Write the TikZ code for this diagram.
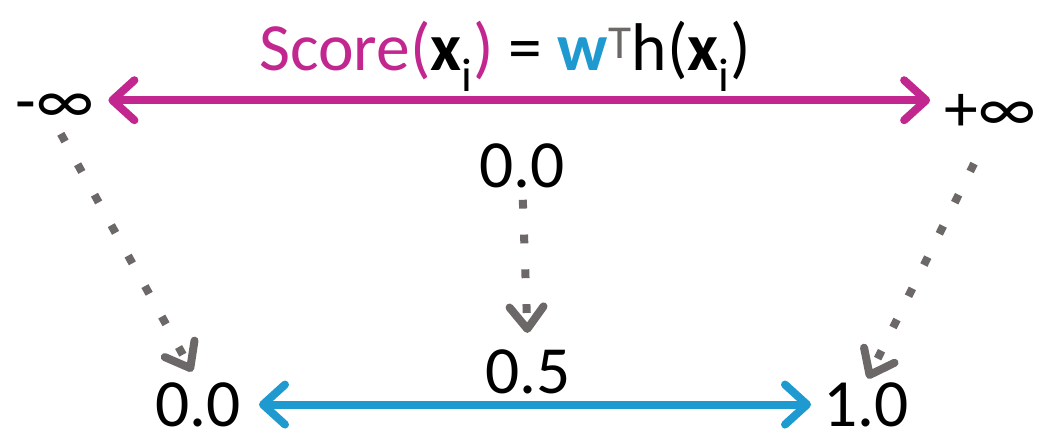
\documentclass[tikz,border=0pt]{standalone}
\usepackage{fontspec}
\setmainfont{Carlito}
\usepackage{xcolor}
\usepackage{tikz}
\usetikzlibrary{arrows.meta,positioning,calc}
\definecolor{scoremag}{HTML}{C2278F}
\definecolor{probblue}{HTML}{1E9AD0}
\definecolor{mapgray}{HTML}{6D6868}

\begin{document}
\begin{tikzpicture}[
    lbl/.style={inner sep=0pt, font=\fontsize{48}{56}\selectfont},
    rangearr/.style={line width=0.2cm, {Straight Barb[round,length=0.55cm,width=1cm]}-{Straight Barb[round,length=0.55cm,width=1cm]}},
    maparr/.style={draw=mapgray, line width=0.2cm, dash pattern=on 0.22cm off 0.65cm,
                   -{Straight Barb[round,length=0.55cm,width=0.85cm]}}
  ]
  \useasboundingbox (0,0) rectangle (26,11.075);
  \clip (0,0) rectangle (26,11.075);

  % score line
  \node[lbl, anchor=base] (title) at (12.625,9.3)
    {\color{scoremag}Score(\textcolor{black}{\textbf{x}\textsubscript{i}})
     \textcolor{black}{=} \textcolor{probblue}{\textbf{w}}\textcolor{mapgray}{\textsuperscript{T}}\textcolor{black}{h(\textbf{x}\textsubscript{i})}};
  \node[lbl, anchor=base] (minf) at (1.375,8.0) {-∞};
  \node[lbl, anchor=base] (pinf) at (24.75,7.8) {+∞};
  \node[lbl, anchor=base] (zmid) at (13.06,6.4) {0.0};

  % probability line
  \node[lbl, anchor=base] (half) at (13.2,1.25) {0.5};
  \node[lbl, anchor=base] (zlo) at (4.95,0.42) {0.0};
  \node[lbl, anchor=base] (one) at (21.65,0.42) {1.0};

  \draw[rangearr, scoremag, shorten <=0.35cm, shorten >=0.35cm]
    ($(minf.east)+(0,0.2)$) -- ($(minf.east -| pinf.west)+(0,0.2)$);
  \draw[rangearr, probblue, shorten <=0.45cm, shorten >=0.3cm]
    (zlo.east) -- (zlo.east -| one.west);

  \draw[maparr, shorten <=0.3cm, shorten >=0.3cm] (minf.south) -- (zlo.north);
  \draw[maparr, shorten <=0.3cm, shorten >=0.4cm] (zmid.south) -- (half.north);
  \draw[maparr, shorten <=0.9cm, shorten >=0.1cm] (pinf.south) -- (one.north);
\end{tikzpicture}
\end{document}
